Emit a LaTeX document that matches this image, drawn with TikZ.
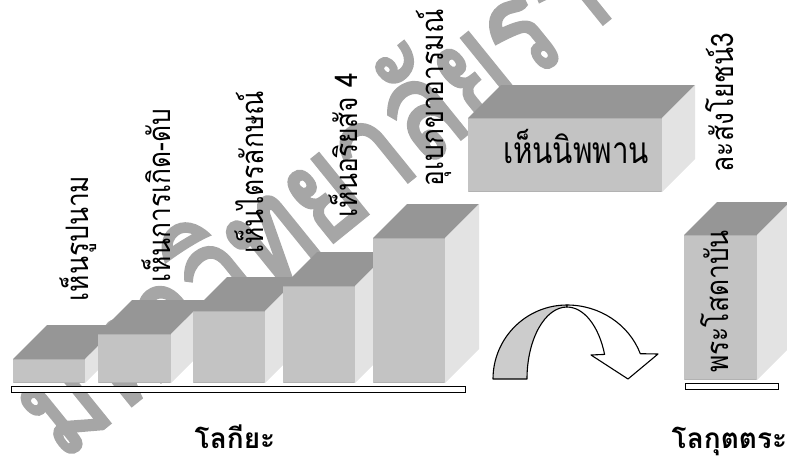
\documentclass[tikz,border=0pt]{standalone}
\usepackage{fontspec}
\newfontfamily\thlab[Script=Thai,FakeStretch=0.85]{Loma}
\newfontfamily\thbox[Script=Thai,FakeStretch=0.8]{Loma}
\newfontfamily\thai[Script=Thai]{Loma}
\newfontfamily\wmfont[Script=Thai,FakeBold=2.2,FakeStretch=0.78]{Loma}
\definecolor{boxtop}{HTML}{969696}
\definecolor{boxfront}{HTML}{C3C3C3}
\definecolor{boxside}{HTML}{E3E3E3}
\definecolor{boxbot}{HTML}{B2B2B2}
\definecolor{wmgray}{HTML}{A6A6A6}
\definecolor{arrowgray}{HTML}{CCCCCC}
\newcommand\cuboid[5]{%
  \fill[boxtop] (#1,#3) -- (#1+#5,#3-#5) -- (#2+#5,#3-#5) -- (#2,#3) -- cycle;
  \fill[boxside] (#2,#3) -- (#2+#5,#3-#5) -- (#2+#5,#4-#5) -- (#2,#4) -- cycle;
  \fill[boxfront] (#1,#3) rectangle (#2,#4);
  \draw[boxbot,line width=1.2pt] (#1+0.6,#4-0.6) -- (#2-0.6,#4-0.6);
  \draw[boxbot,line width=0.6pt] (#1,#3+0.3) -- (#2,#3+0.3);
}
\begin{document}
\begin{tikzpicture}[x=1pt,y=-1pt,
  lab/.style={rotate=90,anchor=base,inner sep=0pt,font=\thlab\fontsize{31}{31}\selectfont},
  bottomlab/.style={anchor=base,inner sep=0pt,font=\thai\bfseries\fontsize{28}{28}\selectfont},
  bar/.style={draw=black,fill=white,line width=1.3pt},
  band/.style={draw=black,line width=1.1pt,line join=round}]
\useasboundingbox (0,0) rectangle (787,461);
% watermark
\node[anchor=base west,rotate=39,inner sep=0pt,text=wmgray,
  font=\wmfont\fontsize{140}{140}\selectfont] (wm) at (62,462) {มหาวิทยาลัยราชภัฏ};
% steps
\cuboid{13}{85}{359}{383}{34}
\cuboid{98}{171}{334}{383}{34}
\cuboid{193}{265}{311}{383}{34}
\cuboid{283}{355}{286}{383}{34}
\cuboid{373}{445}{238}{383}{34}
\cuboid{468}{662}{118}{192}{33}
\cuboid{684}{757}{235}{380}{33}
% base bars
\node[bar,inner sep=0pt,minimum width=454pt,minimum height=6pt,anchor=north west] (basel) at (11,386) {};
\node[bar,inner sep=0pt,minimum width=93pt,minimum height=6pt,anchor=north west] (baser) at (685,383) {};
% curved arrow
\filldraw[band,fill=arrowgray] (493,379) arc[start angle=180,end angle=270,x radius=74,y radius=74]
  -- (567,307) arc[start angle=270,end angle=180,x radius=40,y radius=72] -- cycle;
\filldraw[band,fill=white] (567,305) arc[start angle=270,end angle=340,x radius=78,y radius=74]
  -- (658,354) -- (628,379) -- (591,355) -- (604.6,354.4)
  arc[start angle=340,end angle=270,x radius=40,y radius=72] -- cycle;
% rotated labels
\node[lab] (t1) at (88,238.5) {เห็นรูปนาม};
\node[lab] (t2) at (170,195.5) {เห็นการเกิด-ดับ};
\node[lab] (t3) at (263,172.5) {เห็นไตรลักษณ์};
\node[lab] (t4) at (357,145.5) {เห็นอริยสัจ 4};
\node[lab] (t5) at (443,98) {อุเบกขาอารมณ์};
\node[lab] (t6) at (733,102.5) {ละสังโยชน์3};
\node[lab] (t7) at (728,301.5) {พระโสดาบัน};
\node[anchor=base,inner sep=0pt,font=\thbox\fontsize{37}{37}\selectfont] (nib) at (576,163) {เห็นนิพพาน};
\node[bottomlab] (lok) at (235,448) {โลกียะ};
\node[bottomlab] (lokt) at (729.5,448) {โลกุตตระ};
\end{tikzpicture}
\end{document}
